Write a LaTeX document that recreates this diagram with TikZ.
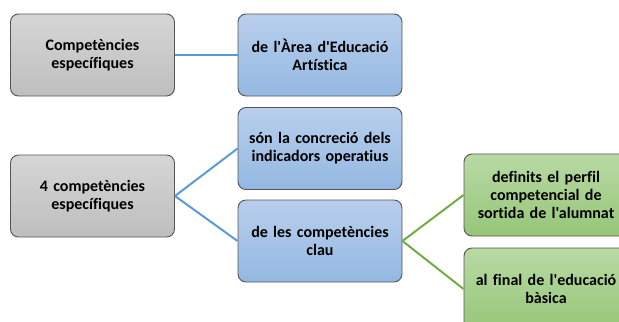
\documentclass[tikz,border=0pt]{standalone}
\usepackage{fontspec}
\setmainfont{Carlito}[Ligatures={TeXOff,NoCommon}]
\usepackage{tikz}
\definecolor{box_grey_t}{RGB}{214, 214, 214}
\definecolor{box_grey_b}{RGB}{190, 190, 190}
\definecolor{box_blue_t}{RGB}{184, 207, 236}
\definecolor{box_blue_b}{RGB}{148, 184, 226}
\definecolor{box_green_t}{RGB}{184, 218, 164}
\definecolor{box_green_b}{RGB}{150, 198, 120}
\definecolor{box_line}{RGB}{85, 85, 85}
\definecolor{line_blue}{RGB}{91, 155, 213}
\definecolor{line_green}{RGB}{112, 173, 71}
\tikzstyle{sbox}=[rectangle,rounded corners=6pt,draw=box_line,line width=0.7pt,
  minimum width=123pt,minimum height=61.5pt,text width=118pt,align=center,
  inner sep=2pt,font=\bfseries\fontsize{12}{13.5}\selectfont]
\tikzstyle{gy}=[sbox,top color=box_grey_t,bottom color=box_grey_b]
\tikzstyle{bl}=[sbox,top color=box_blue_t,bottom color=box_blue_b]
\tikzstyle{gr}=[sbox,top color=box_green_t,bottom color=box_green_b]
\tikzstyle{be}=[draw=line_blue,line width=1.5pt]
\tikzstyle{ge}=[draw=line_green,line width=1.5pt]

\begin{document}
\begin{tikzpicture}[x=0.75pt,y=-0.75pt]
        \useasboundingbox (0,0) rectangle (619,322);
        \node[style=gy] (0) at (92.5,55) {Competències\\específiques};
        \node[style=bl] (1) at (320,55) {de l'Àrea d'Educació\\Artística};
        \node[style=gy] (2) at (92.5,196) {4 competències\\específiques};
        \node[style=bl] (3) at (320,148.5) {són la concreció dels\\indicadors operatius};
        \node[style=bl] (4) at (320,241) {de les competències\\clau};
        \node[style=gr] (5) at (546,195) {definits el perfil\\competencial de\\sortida de l'alumnat};
        \node[style=gr] (6) at (546,289) {al final de l'educació\\bàsica};
        \draw[style=be] (0.east) to (1.west);
        \draw[style=be] (2.east) to (3.west);
        \draw[style=be] (2.east) to (4.west);
        \draw[style=ge] (4.east) to (5.west);
        \draw[style=ge] (4.east) to (6.west);
    \end{tikzpicture}
\end{document}
